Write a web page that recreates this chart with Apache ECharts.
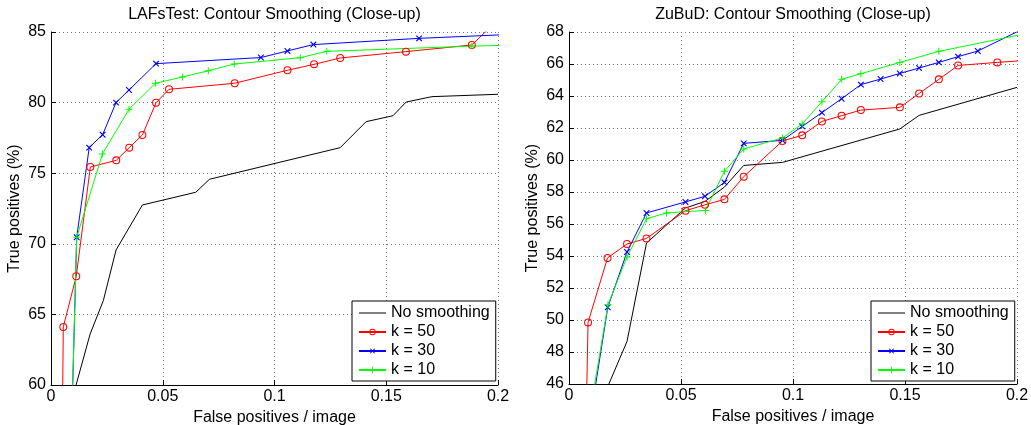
<!DOCTYPE html>
<html>
<head>
<meta charset="utf-8">
<script src="https://cdn.jsdelivr.net/npm/echarts@6/dist/echarts.min.js"></script>
<style>
  html, body { margin: 0; padding: 0; background: #fff; }
  #chart { width: 1031px; height: 425px; }
</style>
</head>
<body>
<div id="chart"></div>
<script>
// ---- LAFsTest panel ----
const lafsNoneX = [0.0060, 0.0175, 0.0234, 0.0291, 0.0409, 0.0648, 0.0709, 0.1294, 0.1410, 0.1530, 0.1589, 0.1704, 0.2000];
const lafsNoneY = [57.00, 63.61, 65.97, 69.56, 72.75, 73.65, 74.57, 76.81, 78.65, 79.07, 80.04, 80.42, 80.59];
const lafsK50X = [0.0050, 0.0055, 0.0113, 0.0176, 0.0292, 0.0350, 0.0409, 0.0470, 0.0528, 0.0822, 0.1058, 0.1177, 0.1294, 0.1588, 0.1883, 0.2000];
const lafsK50Y = [56.00, 64.11, 67.70, 75.44, 75.91, 76.81, 77.71, 79.99, 80.94, 81.37, 82.29, 82.71, 83.16, 83.61, 84.08, 85.87];
const lafsK30X = [0.0092, 0.0115, 0.0171, 0.0231, 0.0291, 0.0349, 0.0470, 0.0939, 0.1058, 0.1174, 0.1647, 0.2118];
const lafsK30Y = [57.00, 70.46, 76.81, 77.73, 80.00, 80.89, 82.76, 83.19, 83.66, 84.11, 84.55, 84.87];
const lafsK10X = [0.0092, 0.0115, 0.0230, 0.0349, 0.0467, 0.0588, 0.0704, 0.0820, 0.1115, 0.1234, 0.1883, 0.2150];
const lafsK10Y = [57.00, 70.46, 76.36, 79.53, 81.37, 81.81, 82.26, 82.73, 83.18, 83.63, 84.00, 84.10];

// ---- ZuBuD panel ----
const zubudNoneX = [0.0117, 0.0259, 0.0346, 0.0520, 0.0607, 0.0694, 0.0780, 0.0953, 0.1477, 0.1563, 0.2000];
const zubudNoneY = [44.00, 48.66, 54.81, 57.00, 57.41, 58.31, 59.66, 59.85, 61.94, 62.79, 64.54];
const zubudK50X = [0.0077, 0.0085, 0.0172, 0.0259, 0.0346, 0.0520, 0.0607, 0.0694, 0.0780, 0.0953, 0.1041, 0.1129, 0.1217, 0.1303, 0.1477, 0.1563, 0.1651, 0.1737, 0.1912, 0.2086];
const zubudK50Y = [44.00, 49.85, 53.88, 54.75, 55.10, 56.83, 57.20, 57.54, 58.96, 61.19, 61.54, 62.41, 62.77, 63.12, 63.29, 64.16, 65.04, 65.91, 66.10, 66.27];
const zubudK30X = [0.0097, 0.0173, 0.0259, 0.0346, 0.0520, 0.0607, 0.0694, 0.0780, 0.0953, 0.1041, 0.1129, 0.1217, 0.1303, 0.1391, 0.1477, 0.1563, 0.1651, 0.1737, 0.1825, 0.2086];
const zubudK30Y = [44.00, 50.79, 54.25, 56.69, 57.38, 57.73, 58.60, 61.04, 61.23, 62.10, 62.96, 63.83, 64.71, 65.06, 65.41, 65.75, 66.10, 66.46, 66.81, 68.60];
const zubudK10X = [0.0091, 0.0174, 0.0259, 0.0346, 0.0435, 0.0609, 0.0694, 0.0780, 0.0953, 0.1041, 0.1129, 0.1217, 0.1303, 0.1477, 0.1651, 0.2086];
const zubudK10Y = [44.00, 50.96, 53.94, 56.33, 56.69, 56.85, 59.29, 60.69, 61.38, 62.25, 63.64, 65.04, 65.39, 66.10, 66.79, 68.03];

const seriesNames = ['No smoothing', 'k = 50', 'k = 30', 'k = 10'];
const panelTitles = ['LAFsTest: Contour Smoothing (Close-up)', 'ZuBuD: Contour Smoothing (Close-up)'];
const xAxisTitle = 'False positives / image';
const yAxisTitle = 'True positives (%)';

const FONT = '"Liberation Sans", Arial, Helvetica, sans-serif';
// marker shapes: thin plus (rotated 45 degrees for the cross) and a hollow ring
const PLUS = 'path://M4.3,0H5.7V4.3H10V5.7H5.7V10H4.3V5.7H0V4.3H4.3Z';
const RING = 'path://M5,0A5,5 0 1,1 5,10A5,5 0 1,1 5,0Z M5,1.3A3.7,3.7 0 1,0 5,8.7A3.7,3.7 0 1,0 5,1.3Z';
const LEGEND_LINE = 'path://M0,0H27V1H0Z';

function zip(xs, ys) { return xs.map((x, i) => [x, ys[i]]); }

const grids = [
  { left: 51, top: 32, width: 447, height: 353 },
  { left: 569, top: 32, width: 448, height: 352 }
];

function xAxisFor(gi) {
  return {
    type: 'value', gridIndex: gi, min: 0, max: 0.2, interval: 0.05,
    name: xAxisTitle, nameLocation: 'middle', nameGap: 19,
    nameTextStyle: { fontSize: 16, fontFamily: FONT, color: '#000' },
    axisLine: { show: true, onZero: false, lineStyle: { color: '#000', width: 1 } },
    axisTick: { show: true, inside: true, length: 5, lineStyle: { color: '#000' } },
    axisLabel: { fontSize: 16, fontFamily: FONT, color: '#000', margin: 4 },
    splitLine: { show: true, lineStyle: { color: '#777', width: 1, type: [1, 3] } }
  };
}
function yAxisFor(gi, min, max, interval) {
  return {
    type: 'value', gridIndex: gi, min: min, max: max, interval: interval,
    name: yAxisTitle, nameLocation: 'middle', nameGap: 28, nameRotate: 90,
    nameTextStyle: { fontSize: 16, fontFamily: FONT, color: '#000' },
    axisLine: { show: true, onZero: false, lineStyle: { color: '#000', width: 1 } },
    axisTick: { show: true, inside: true, length: 5, lineStyle: { color: '#000' } },
    axisLabel: { fontSize: 16, fontFamily: FONT, color: '#000', margin: 5 },
    splitLine: { show: true, lineStyle: { color: '#777', width: 1, type: [1, 3] } }
  };
}

const styles = [
  { color: '#000000', symbol: 'none', symbolSize: 0, rotate: 0 },
  { color: '#ff0000', symbol: RING, symbolSize: 8, rotate: 0 },
  { color: '#0000ff', symbol: PLUS, symbolSize: 8, rotate: 45 },
  { color: '#00ff00', symbol: PLUS, symbolSize: 7, rotate: 0 }
];

function makeSeries(gi, dataSets) {
  return dataSets.map((d, i) => {
    const st = styles[i];
    return {
      type: 'line', name: seriesNames[i], xAxisIndex: gi, yAxisIndex: gi,
      data: d, clip: true, animation: false, silent: true,
      symbol: st.symbol, symbolSize: st.symbolSize, symbolRotate: st.rotate,
      symbolKeepAspect: true,
      showSymbol: st.symbol !== 'none', showAllSymbol: true,
      lineStyle: { color: st.color, width: 1 },
      itemStyle: { color: st.color, borderWidth: 0 },
      emphasis: { disabled: true }
    };
  });
}

function legendAt(left) {
  return {
    data: seriesNames.map((n, i) => i === 0 ? { name: n, icon: LEGEND_LINE } : { name: n }),
    orient: 'vertical', left: left, top: 301,
    borderColor: '#000', borderWidth: 1, backgroundColor: '#fff',
    padding: [4, 6, 3, 6], itemGap: 3, itemWidth: 27, itemHeight: 8,
    selectedMode: false,
    textStyle: { fontSize: 16, fontFamily: FONT, color: '#000' }
  };
}

const option = {
  backgroundColor: '#fff',
  animation: false,
  grid: grids.map(g => Object.assign({ containLabel: false, outerBoundsMode: 'none' }, g)),
  xAxis: [xAxisFor(0), xAxisFor(1)],
  yAxis: [yAxisFor(0, 60, 85, 5), yAxisFor(1, 46, 68, 2)],
  legend: [legendAt(352), legendAt(871)],
  graphic: panelTitles.map((t, i) => ({
    type: 'text',
    x: grids[i].left + grids[i].width / 2, y: 15,
    style: { text: t, fontSize: 16, fontFamily: FONT, fill: '#000', align: 'center', verticalAlign: 'middle' }
  })),
  series: [].concat(
    makeSeries(0, [zip(lafsNoneX, lafsNoneY), zip(lafsK50X, lafsK50Y), zip(lafsK30X, lafsK30Y), zip(lafsK10X, lafsK10Y)]),
    makeSeries(1, [zip(zubudNoneX, zubudNoneY), zip(zubudK50X, zubudK50Y), zip(zubudK30X, zubudK30Y), zip(zubudK10X, zubudK10Y)])
  )
};

const chart = echarts.init(document.getElementById('chart'), null, { renderer: 'canvas' });
chart.setOption(option);
</script>
</body>
</html>
